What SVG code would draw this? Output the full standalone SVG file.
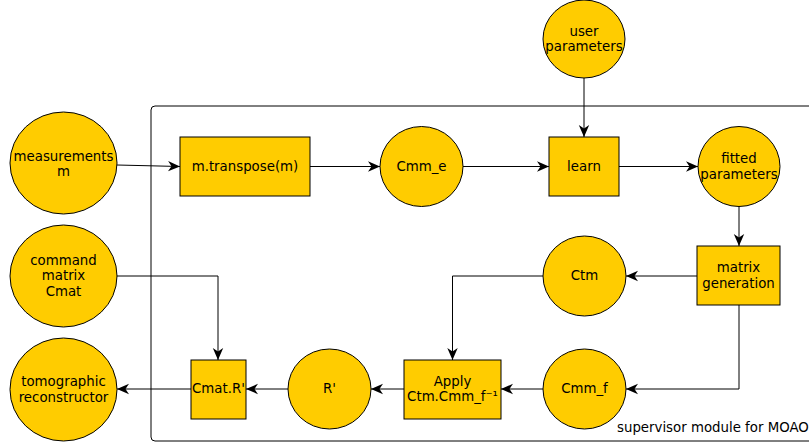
<svg xmlns="http://www.w3.org/2000/svg" width="809" height="444" viewBox="0 0 809 444">
<style>
.n{fill:#FFCC00;stroke:#000;stroke-width:1}
.t{font-family:"DejaVu Sans",sans-serif;font-size:13.33px;fill:#000;text-anchor:middle}
.e{fill:none;stroke:#000;stroke-width:1}
</style>
<defs>
<marker id="a" markerUnits="userSpaceOnUse" markerWidth="13" markerHeight="12" refX="12" refY="6" orient="auto">
<path d="M0,0.8 L12,6 L0,11.2 L3.5,6 Z" fill="#000"/>
</marker>
</defs>
<rect x="151" y="106" width="700" height="335" rx="4" fill="none" stroke="#000" stroke-width="1"/>
<text x="617" y="432" font-family="DejaVu Sans,sans-serif" font-size="13.33px">supervisor module for MOAO</text>
<g id="connectors">
<path class="e" d="M117,165 L180,166.5" marker-end="url(#a)"/>
<path class="e" d="M310,166.5 L380,166.5" marker-end="url(#a)"/>
<path class="e" d="M463,166.5 L549,166.5" marker-end="url(#a)"/>
<path class="e" d="M619,166.5 L698,166.5" marker-end="url(#a)"/>
<path class="e" d="M584,78 L584,137" marker-end="url(#a)"/>
<path class="e" d="M739,206 L739,246" marker-end="url(#a)"/>
<path class="e" d="M697,276 L626,276" marker-end="url(#a)"/>
<path class="e" d="M739,305 L739,389 L626,389" marker-end="url(#a)"/>
<path class="e" d="M543,276 L452.5,276 L452.5,360" marker-end="url(#a)"/>
<path class="e" d="M543,389 L501,389" marker-end="url(#a)"/>
<path class="e" d="M404,389 L371,389" marker-end="url(#a)"/>
<path class="e" d="M288,389 L246,389" marker-end="url(#a)"/>
<path class="e" d="M191,389 L117,389" marker-end="url(#a)"/>
<path class="e" d="M117,276 L218,276 L218,360" marker-end="url(#a)"/>
</g>
<g id="measurements"><ellipse class="n" cx="63.5" cy="163" rx="53.5" ry="51"/><text class="t" x="63.5" y="161">measurements</text><text class="t" x="63.5" y="176">m</text></g>
<g id="command"><ellipse class="n" cx="63.5" cy="276" rx="53.5" ry="51"/><text class="t" x="63.5" y="265">command</text><text class="t" x="63.5" y="280">matrix</text><text class="t" x="63.5" y="296">Cmat</text></g>
<g id="tomographic"><ellipse class="n" cx="63.5" cy="389.5" rx="53.5" ry="51.5"/><text class="t" x="63.5" y="386">tomographic</text><text class="t" x="63.5" y="402">reconstructor</text></g>
<g id="transpose"><rect class="n" x="180" y="137" width="130" height="59"/><text class="t" x="245" y="171">m.transpose(m)</text></g>
<g id="cmm_e"><ellipse class="n" cx="421.5" cy="166.5" rx="41.5" ry="40"/><text class="t" x="421.5" y="171">Cmm_e</text></g>
<g id="user"><ellipse class="n" cx="584" cy="39" rx="41" ry="39"/><text class="t" x="584" y="36">user</text><text class="t" x="584" y="51">parameters</text></g>
<g id="learn"><rect class="n" x="549" y="137" width="70" height="59"/><text class="t" x="584" y="171">learn</text></g>
<g id="fitted"><ellipse class="n" cx="739" cy="166.5" rx="41" ry="40"/><text class="t" x="739" y="163">fitted</text><text class="t" x="739" y="179">parameters</text></g>
<g id="matrixgen"><rect class="n" x="697" y="246" width="83" height="59"/><text class="t" x="738.5" y="272">matrix</text><text class="t" x="738.5" y="288">generation</text></g>
<g id="ctm"><ellipse class="n" cx="584.5" cy="276" rx="41.5" ry="40"/><text class="t" x="584.5" y="280">Ctm</text></g>
<g id="cmm_f"><ellipse class="n" cx="584.5" cy="389" rx="41.5" ry="40"/><text class="t" x="584.5" y="393">Cmm_f</text></g>
<g id="apply"><rect class="n" x="404" y="360" width="97" height="59"/><text class="t" x="452.5" y="386">Apply</text><text class="t" x="452.5" y="401">Ctm.Cmm_f⁻¹</text></g>
<g id="rprime"><ellipse class="n" cx="329.5" cy="389" rx="41.5" ry="40"/><text class="t" x="329.5" y="393">R'</text></g>
<g id="cmatr"><rect class="n" x="191" y="360" width="55" height="59"/><text class="t" x="218.5" y="393">Cmat.R'</text></g>
</svg>
